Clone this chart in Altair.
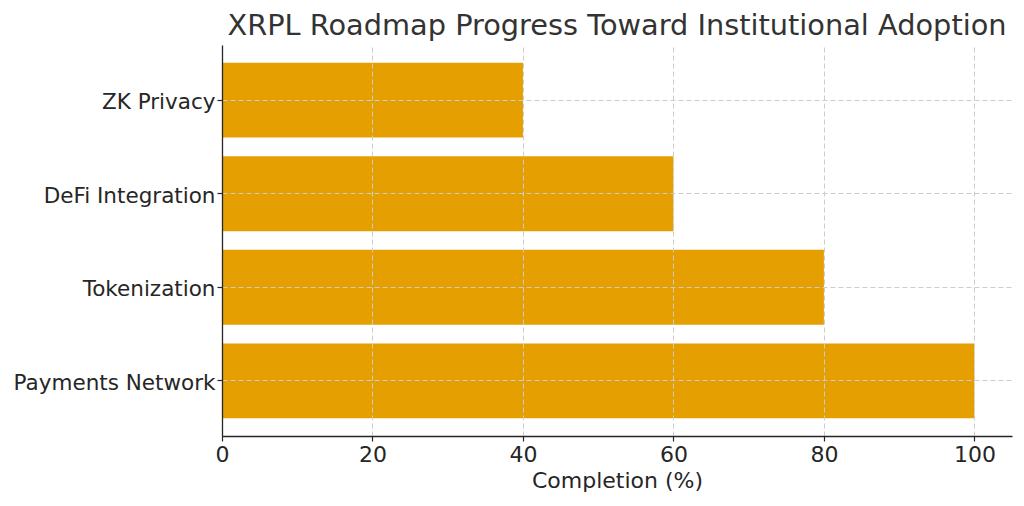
import altair as alt
import pandas as pd

categories = ["ZK Privacy", "DeFi Integration", "Tokenization", "Payments Network"]
completion = [40, 60, 80, 100]
x_ticks = [0, 20, 40, 60, 80, 100]

df = pd.DataFrame({"Milestone": categories, "Completion": completion})

FONT = "DejaVu Sans"

chart = alt.Chart(df).mark_bar(color="#E69F00").encode(
    x=alt.X(
        "Completion:Q",
        scale=alt.Scale(domain=[0, 105], nice=False, zero=True),
        axis=alt.Axis(
            title="Completion (%)",
            values=x_ticks,
            format="d",
            grid=True,
            gridColor="#cccccc",
            gridDash=[5, 3],
            gridWidth=1,
            domainColor="#262626",
            domainWidth=1.3,
            tickColor="#262626",
            tickSize=5,
            tickWidth=1.2,
            labelFontSize=22,
            labelColor="#262626",
            labelFont=FONT,
            labelPadding=3,
            labelFlush=False,
            titleFontSize=22,
            titleFont=FONT,
            titleFontWeight="normal",
            titleColor="#262626",
            titlePadding=5,
            zindex=1,
        ),
    ),
    y=alt.Y(
        "Milestone:N",
        sort=categories,
        scale=alt.Scale(paddingInner=0.2, paddingOuter=0.19),
        axis=alt.Axis(
            title=None,
            grid=True,
            gridColor="#cccccc",
            gridDash=[5, 3],
            gridWidth=1,
            domainColor="#262626",
            domainWidth=1.3,
            tickColor="#262626",
            tickSize=5,
            tickWidth=1.2,
            labelFontSize=21.5,
            labelColor="#262626",
            labelFont=FONT,
            labelPadding=2,
            labelLimit=400,
            labelOffset=3,
            bandPosition=0.5,
            zindex=1,
        ),
    ),
).properties(
    width=790,
    height=391,
    title=alt.TitleParams(
        "XRPL Roadmap Progress Toward Institutional Adoption",
        fontSize=28.8,
        font=FONT,
        fontWeight="normal",
        color="#333333",
        anchor="middle",
        offset=4,
    ),
    padding={"left": 214, "top": 37, "right": 2, "bottom": 60},
    autosize=alt.AutoSizeParams(type="none"),
).configure_view(stroke=None)

chart.save("out.html", embed_options={"renderer": "svg", "actions": False})
